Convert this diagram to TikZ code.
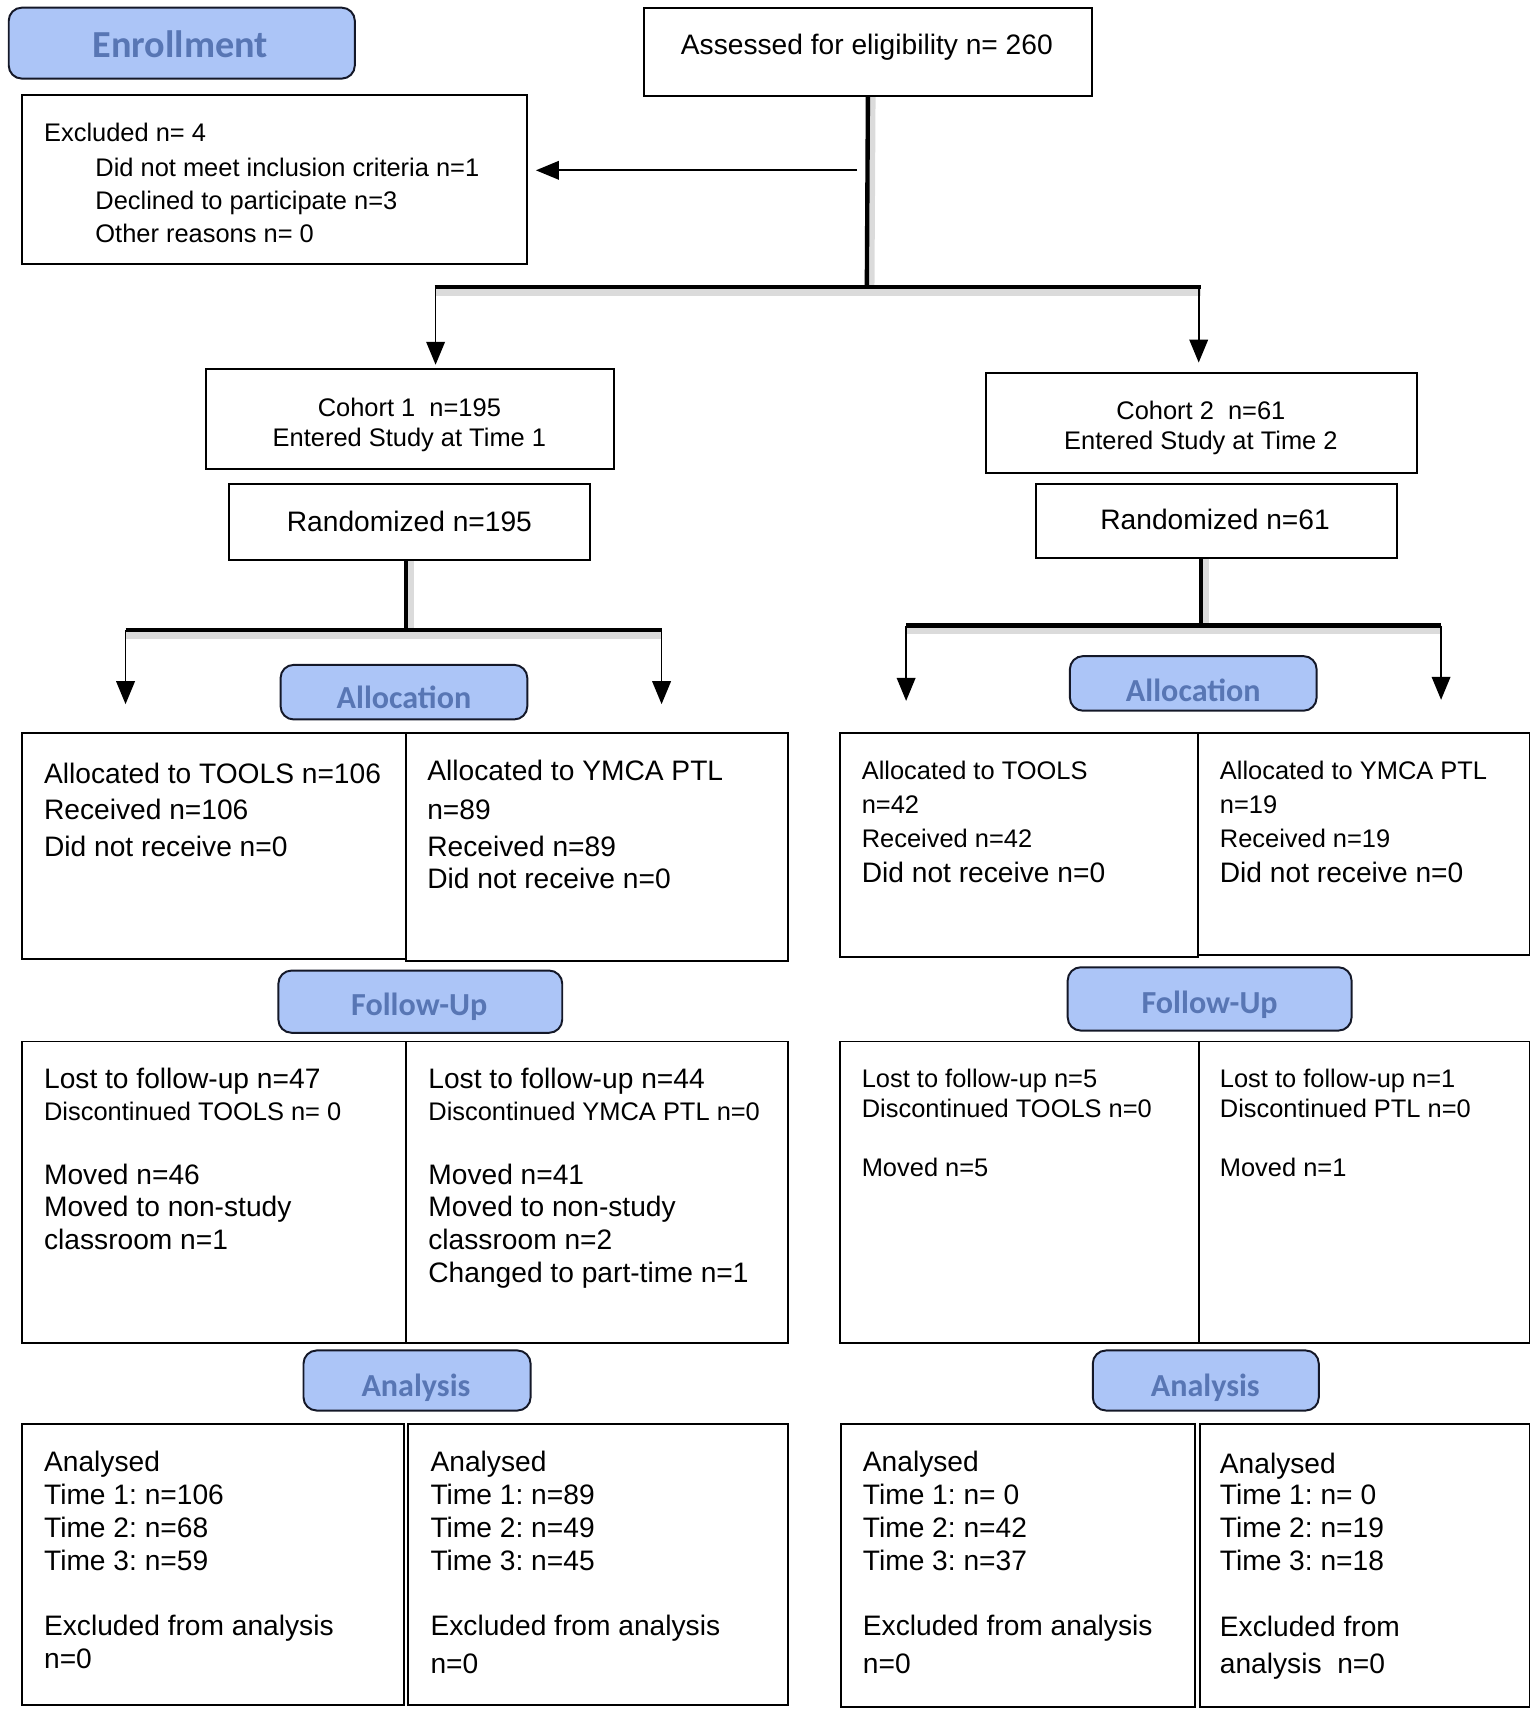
\documentclass[tikz,border=0pt]{standalone}
\usepackage{fontspec}
\setmainfont{Liberation Sans}
\newfontfamily\lblfont{Carlito}
\usetikzlibrary{fit,arrows.meta,calc}
\definecolor{lblfill}{RGB}{172,197,247}
\definecolor{lbltext}{RGB}{88,118,180}
\definecolor{lbldraw}{RGB}{20,24,40}
\frenchspacing
\tikzset{
  box/.style={draw=black, line width=0.9pt, inner sep=0pt},
  lbl/.style={draw=lbldraw, line width=0.9pt, rounded corners=6pt, fill=lblfill, inner sep=0pt},
  lbltxt/.style={text=lbltext, font=\lblfont\bfseries\fontsize{14.7pt}{16pt}\selectfont, inner sep=0pt, anchor=mid, yshift=-3pt},
  big/.style={font=\fontsize{12.9pt}{15pt}\selectfont, inner sep=0pt, anchor=mid west, yshift=-2pt},
  sml/.style={font=\fontsize{11.65pt}{14pt}\selectfont, inner sep=0pt, anchor=mid west, yshift=-2pt},
  bigc/.style={big, anchor=mid},
  smlc/.style={sml, anchor=mid},
  bus/.style={line width=2pt},
  busshadow/.style={line width=3pt, black!20, opacity=0.7},
  arr/.style={line width=0.8pt, -{Triangle[length=10.5pt,width=8.5pt]}},
}
\begin{document}
\begin{tikzpicture}[x=0.5pt,y=-0.5pt]
\useasboundingbox (0,0) rectangle (1410,1570);
% ---------- boxes ----------
\node[lbl, fit={(8,7) (325,72)}] (enrol) {};
\node[box, fit={(590,7) (1000,88)}] (assess) {};
\node[box, fit={(20,87) (483,242)}] (excl) {};
\node[box, fit={(189,338) (562,430)}] (coh1) {};
\node[box, fit={(210,443) (540,513)}] (rand1) {};
\node[box, fit={(903,342) (1298,433)}] (coh2) {};
\node[box, fit={(949,443) (1280,511)}] (rand2) {};
\node[lbl, fit={(257,609) (483,659)}] (allocL) {};
\node[lbl, fit={(980,601) (1206,651)}] (allocR) {};
\node[box, fit={(20,671) (372,878)}] (a1) {};
\node[box, fit={(372,671) (722,880)}] (a2) {};
\node[box, fit={(769,671) (1097,877)}] (a3) {};
\node[box, fit={(1097,671) (1401,875)}] (a4) {};
\node[lbl, fit={(255,889) (515,946)}] (fuL) {};
\node[lbl, fit={(978,886) (1238,944)}] (fuR) {};
\node[box, fit={(20,954) (372,1230)}] (f1) {};
\node[box, fit={(372,954) (722,1230)}] (f2) {};
\node[box, fit={(769,954) (1098,1230)}] (f3) {};
\node[box, fit={(1098,954) (1401,1230)}] (f4) {};
\node[lbl, fit={(278,1237) (486,1292)}] (anL) {};
\node[lbl, fit={(1001,1237) (1208,1292)}] (anR) {};
\node[box, fit={(20,1304) (370,1562)}] (n1) {};
\node[box, fit={(374,1304) (722,1562)}] (n2) {};
\node[box, fit={(770,1304) (1095,1564)}] (n3) {};
\node[box, fit={(1099,1304) (1401,1564)}] (n4) {};
% ---------- section labels ----------
\node[lbltxt, font=\lblfont\bfseries\fontsize{17.5pt}{19pt}\selectfont, yshift=-0.5pt] (tEnrol) at (165,40) {Enrollment};
\node[lbltxt] (tAllocL) at (370,638) {Allocation};
\node[lbltxt] (tAllocR) at (1093,631) {Allocation};
\node[lbltxt] (tFuL) at (384,919) {Follow-Up};
\node[lbltxt] (tFuR) at (1108,917) {Follow-Up};
\node[lbltxt] (tAnL) at (381,1268) {Analysis};
\node[lbltxt] (tAnR) at (1104,1268) {Analysis};
% ---------- top ----------
\node[bigc] (tAssess) at (794,41) {Assessed for eligibility n= 260};
\node[sml] (tEx1) at (40,120) {Excluded n= 4};
\node[sml] (tEx2) at (87,152) {Did not meet inclusion criteria n=1};
\node[sml] (tEx3) at (87,183) {Declined to participate n=3};
\node[sml] (tEx4) at (87,213) {Other reasons n= 0};
\node[smlc] (tC1a) at (375,372) {Cohort 1\ \ n=195};
\node[smlc] (tC1b) at (375,400) {Entered Study at Time 1};
\node[bigc] (tR1) at (375,478) {Randomized n=195};
\node[smlc] (tC2a) at (1100,375) {Cohort 2\ \ n=61};
\node[smlc] (tC2b) at (1100,402) {Entered Study at Time 2};
\node[bigc] (tR2) at (1113,476) {Randomized n=61};
% ---------- allocation texts ----------
\node[big] (ta1a) at (40,708) {Allocated to TOOLS n=106};
\node[big] (ta1b) at (40,741) {Received n=106};
\node[big] (ta1c) at (40,775) {Did not receive n=0};
\node[big] (ta2a) at (391,706) {Allocated to YMCA PTL};
\node[big] (ta2b) at (391,741) {n=89};
\node[big] (ta2c) at (391,775) {Received n=89};
\node[big] (ta2d) at (391,805) {Did not receive n=0};
\node[sml] (ta3a) at (789,705) {Allocated to TOOLS};
\node[sml] (ta3b) at (789,736) {n=42};
\node[sml] (ta3c) at (789,767) {Received n=42};
\node[big] (ta3d) at (789,799) {Did not receive n=0};
\node[sml] (ta4a) at (1117,705) {Allocated to YMCA PTL};
\node[sml] (ta4b) at (1117,736) {n=19};
\node[sml] (ta4c) at (1117,767) {Received n=19};
\node[big] (ta4d) at (1117,799) {Did not receive n=0};
% ---------- follow-up texts ----------
\node[big] (tf1a) at (40,988) {Lost to follow-up n=47};
\node[sml] (tf1b) at (40,1017) {Discontinued TOOLS n= 0};
\node[big] (tf1c) at (40,1076) {Moved n=46};
\node[big] (tf1d) at (40,1105) {Moved to non-study};
\node[big] (tf1e) at (40,1135) {classroom n=1};
\node[big] (tf2a) at (392,988) {Lost to follow-up n=44};
\node[sml] (tf2b) at (392,1017) {Discontinued YMCA PTL n=0};
\node[big] (tf2c) at (392,1076) {Moved n=41};
\node[big] (tf2d) at (392,1105) {Moved to non-study};
\node[big] (tf2e) at (392,1135) {classroom n=2};
\node[big] (tf2f) at (392,1165) {Changed to part-time n=1};
\node[sml] (tf3a) at (789,987) {Lost to follow-up n=5};
\node[sml] (tf3b) at (789,1014) {Discontinued TOOLS n=0};
\node[sml] (tf3c) at (789,1068) {Moved n=5};
\node[sml] (tf4a) at (1117,987) {Lost to follow-up n=1};
\node[sml] (tf4b) at (1117,1014) {Discontinued PTL n=0};
\node[sml] (tf4c) at (1117,1068) {Moved n=1};
% ---------- analysis texts ----------
\node[big] (tn1a) at (40,1339) {Analysed};
\node[big] (tn1b) at (40,1369) {Time 1: n=106};
\node[big] (tn1c) at (40,1399) {Time 2: n=68};
\node[big] (tn1d) at (40,1429) {Time 3: n=59};
\node[big] (tn1e) at (40,1489) {Excluded from analysis};
\node[big] (tn1f) at (40,1519) {n=0};
\node[big] (tn2a) at (394,1339) {Analysed};
\node[big] (tn2b) at (394,1369) {Time 1: n=89};
\node[big] (tn2c) at (394,1399) {Time 2: n=49};
\node[big] (tn2d) at (394,1429) {Time 3: n=45};
\node[big] (tn2e) at (394,1489) {Excluded from analysis};
\node[big] (tn2f) at (394,1524) {n=0};
\node[big] (tn3a) at (790,1339) {Analysed};
\node[big] (tn3b) at (790,1369) {Time 1: n= 0};
\node[big] (tn3c) at (790,1399) {Time 2: n=42};
\node[big] (tn3d) at (790,1429) {Time 3: n=37};
\node[big] (tn3e) at (790,1489) {Excluded from analysis};
\node[big] (tn3f) at (790,1524) {n=0};
\node[big] (tn4a) at (1117,1340) {Analysed};
\node[big] (tn4b) at (1117,1369) {Time 1: n= 0};
\node[big] (tn4c) at (1117,1399) {Time 2: n=19};
\node[big] (tn4d) at (1117,1429) {Time 3: n=18};
\node[big] (tn4e) at (1117,1490) {Excluded from};
\node[big] (tn4f) at (1117,1524) {analysis\ \ n=0};
% ---------- connectors ----------
\coordinate (b1M) at (794,263);
\coordinate (b1L) at (398,263);
\coordinate (b1R) at (1100,263);
\coordinate (d1) at (399,263);
\coordinate (d2) at (1098,263);
\coordinate (e0) at (785,156);
\draw[busshadow] ($(assess.south)+(4,0)$) -- ($(b1M)+(4,0)$);
\draw[busshadow] ($(b1L)+(0,5)$) -- ($(b1R)+(0,5)$);
\draw[bus] (assess.south) -- (b1M);
\draw[bus] (b1L) -- (b1R);
\draw[arr, shorten >=3.5pt] (e0) -- (excl.east |- e0);
\draw[arr, shorten >=1.5pt] (d1) -- (d1 |- coh1.north);
\draw[arr, shorten >=4.5pt] (d2) -- (d2 |- coh2.north);
% cohort 1 split
\coordinate (b2M) at (372,577);
\coordinate (b2L) at (115,577);
\coordinate (b2R) at (606,577);
\coordinate (e2L) at (115,645);
\coordinate (e2R) at (606,645);
\draw[busshadow] ($(rand1.south -| b2M)+(4,0)$) -- ($(b2M)+(4,0)$);
\draw[busshadow] ($(b2L)+(0,5)$) -- ($(b2R)+(0,5)$);
\draw[bus] (rand1.south -| b2M) -- (b2M);
\draw[bus] (b2L) -- (b2R);
\draw[arr] (b2L) -- (e2L);
\draw[arr] (b2R) -- (e2R);
% cohort 2 split
\coordinate (b3M) at (1100,573);
\coordinate (b3L) at (830,573);
\coordinate (b3R) at (1320,573);
\coordinate (e3L) at (830,642);
\coordinate (e3R) at (1320,641);
\draw[busshadow] ($(rand2.south -| b3M)+(4,0)$) -- ($(b3M)+(4,0)$);
\draw[busshadow] ($(b3L)+(0,5)$) -- ($(b3R)+(0,5)$);
\draw[bus] (rand2.south -| b3M) -- (b3M);
\draw[bus] (b3L) -- (b3R);
\draw[arr] (b3L) -- (e3L);
\draw[arr] (b3R) -- (e3R);
\end{tikzpicture}
\end{document}
